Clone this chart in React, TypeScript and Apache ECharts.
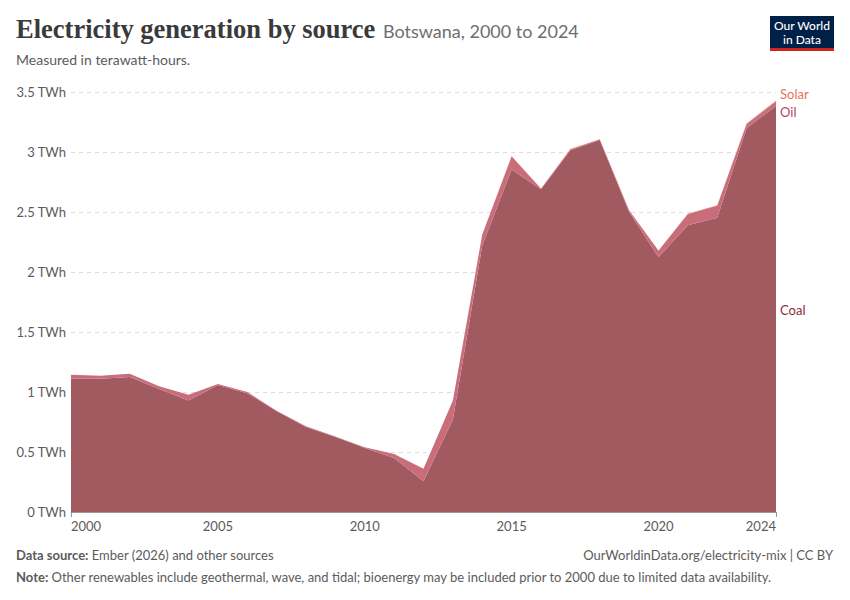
import React, { useEffect, useRef } from "react";
import * as echarts from "echarts";

const years = [
  "2000","2001","2002","2003","2004","2005","2006","2007","2008","2009","2010","2011","2012",
  "2013","2014","2015","2016","2017","2018","2019","2020","2021","2022","2023","2024",
];
const coal = [
  1.111, 1.11, 1.125, 1.025, 0.93, 1.058, 0.99, 0.839, 0.708, 0.625, 0.533, 0.45, 0.256,
  0.77, 2.22, 2.854, 2.69, 3.015, 3.099, 2.5, 2.124, 2.389, 2.453, 3.2, 3.383,
];
const oil = [
  0.033, 0.026, 0.028, 0.022, 0.048, 0.009, 0.01, 0.005, 0.006, 0.005, 0.006, 0.033, 0.104,
  0.159, 0.092, 0.11, 0.004, 0.008, 0.007, 0.012, 0.053, 0.094, 0.099, 0.033, 0.037,
];
const solar = [
  0, 0, 0, 0, 0, 0, 0, 0, 0, 0, 0, 0, 0.001,
  0.001, 0.001, 0.001, 0.001, 0.001, 0.001, 0.002, 0.003, 0.003, 0.004, 0.005, 0.008,
];
const yTicks = [0, 0.5, 1, 1.5, 2, 2.5, 3, 3.5];
const xLabelYears = ["2000", "2005", "2010", "2015", "2020", "2024"];

const FONT = "Lato, 'Noto Sans', sans-serif";
const COAL_COLOR = "#a05a60";
const OIL_COLOR = "#c96d7b";
const SOLAR_COLOR = "#e5745d";

export default function App() {
  const ref = useRef<HTMLDivElement>(null);
  useEffect(() => {
    if (!ref.current) return;
    const chart = echarts.init(ref.current, null, { renderer: "svg" });
    const mkSeries = (name: string, data: number[], color: string) => ({
      name,
      type: "line",
      stack: "total",
      data,
      symbol: "none",
      lineStyle: { width: 0 },
      itemStyle: { color },
      areaStyle: { color, opacity: 1 },
      z: 2,
    });
    const rich = { b: { fontWeight: "bold", fontFamily: FONT, fontSize: 13, fill: "#5b5b5b" } };
    chart.setOption({
      animation: false,
      textStyle: { fontFamily: FONT },
      grid: { left: 71, right: 74, top: 92, bottom: 88 },
      xAxis: {
        type: "category",
        data: years,
        boundaryGap: false,
        axisLine: { show: true, lineStyle: { color: "#999" } },
        axisTick: {
          show: true,
          length: 5,
          lineStyle: { color: "#999" },
          interval: (i: number, v: string) => v === "2000" || v === "2024",
        },
        axisLabel: {
          interval: (i: number, v: string) => xLabelYears.includes(v),
          color: "#5b5b5b",
          fontSize: 13,
          fontFamily: FONT,
          margin: 7,
          alignMinLabel: "left",
          alignMaxLabel: "right",
        },
      },
      yAxis: {
        type: "value",
        min: yTicks[0],
        max: yTicks[yTicks.length - 1],
        interval: 0.5,
        axisLine: { show: false },
        axisTick: { show: false },
        axisLabel: {
          formatter: (v: number) => `${v} TWh`,
          color: "#5b5b5b",
          fontSize: 13,
          fontFamily: FONT,
          margin: 5,
        },
        splitLine: { show: true, lineStyle: { color: "#dddddd", type: [4, 4], width: 1 } },
      },
      series: [
        mkSeries("Coal", coal, COAL_COLOR),
        mkSeries("Oil", oil, OIL_COLOR),
        mkSeries("Solar", solar, SOLAR_COLOR),
      ],
      graphic: [
        {
          type: "text",
          left: 16,
          top: 15,
          style: {
            text: "Electricity generation by source",
            font: "600 26.5px 'Liberation Serif', 'DejaVu Serif', serif",
            fill: "#3a3a3a",
          },
        },
        {
          type: "text",
          left: 383,
          top: 22,
          style: {
            text: "Botswana, 2000 to 2024",
            font: `18px ${FONT}`,
            fill: "#6e6e6e",
          },
        },
        {
          type: "text",
          left: 16,
          top: 52,
          style: {
            text: "Measured in terawatt-hours.",
            font: `14px ${FONT}`,
            fill: "#5b5b5b",
          },
        },
        { type: "rect", shape: { x: 770, y: 16, width: 64, height: 32 }, style: { fill: "#002147" } },
        { type: "rect", shape: { x: 770, y: 48, width: 64, height: 3 }, style: { fill: "#ce261e" } },
        {
          type: "text",
          x: 802,
          y: 18,
          style: {
            text: "Our World\nin Data",
            font: `500 12px ${FONT}`,
            fill: "#ffffff",
            align: "center",
            lineHeight: 14,
          },
        },
        { type: "text", x: 780, y: 87, style: { text: "Solar", font: `13px ${FONT}`, fill: SOLAR_COLOR } },
        { type: "text", x: 780, y: 105, style: { text: "Oil", font: `13px ${FONT}`, fill: "#b8485e" } },
        { type: "text", x: 780, y: 303, style: { text: "Coal", font: `13px ${FONT}`, fill: "#8c2a38" } },
        {
          type: "text",
          left: 16,
          top: 548,
          style: {
            text: "{b|Data source:} Ember (2026) and other sources",
            font: `13px ${FONT}`,
            fill: "#5b5b5b",
            rich,
          },
        },
        {
          type: "text",
          right: 17,
          top: 548,
          style: {
            text: "OurWorldinData.org/electricity-mix | CC BY",
            font: `13px ${FONT}`,
            fill: "#5b5b5b",
          },
        },
        {
          type: "text",
          left: 16,
          top: 570,
          style: {
            text: "{b|Note:} Other renewables include geothermal, wave, and tidal; bioenergy may be included prior to 2000 due to limited data availability.",
            font: `13px ${FONT}`,
            fill: "#5b5b5b",
            rich,
          },
        },
      ],
    });
    return () => chart.dispose();
  }, []);
  return (
    <div
      ref={ref}
      style={{ position: "fixed", left: 0, top: 0, width: 850, height: 600, background: "#fff" }}
    />
  );
}
